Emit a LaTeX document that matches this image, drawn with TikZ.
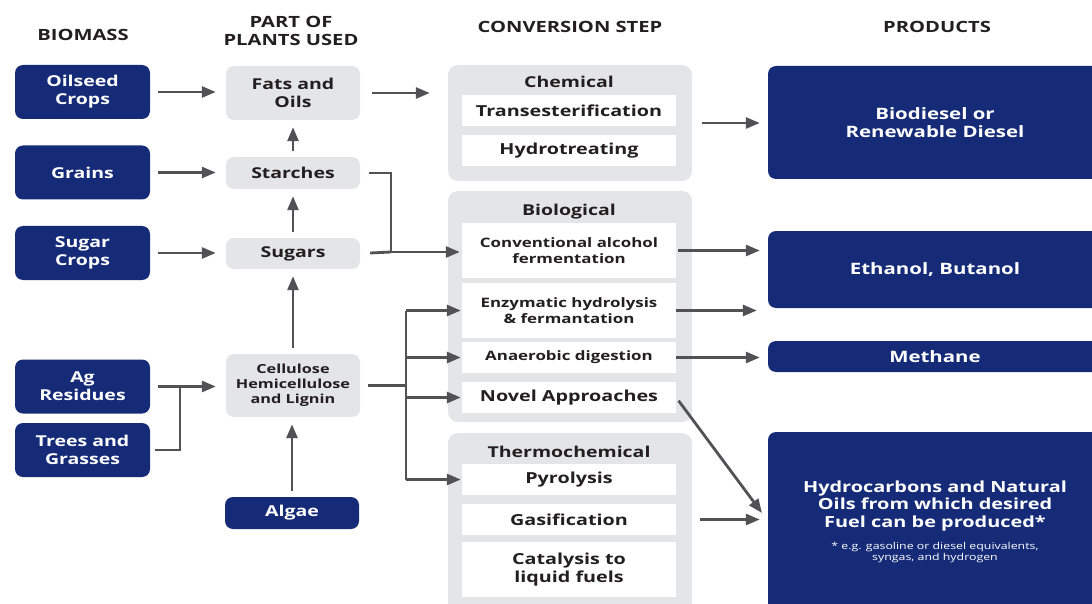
\documentclass[tikz,border=0pt]{standalone}
\usepackage{fontspec}
\setmainfont{Open Sans}[FakeStretch=1.3]
\usepackage{tikz}
\usetikzlibrary{calc,shapes,arrows.meta}

\definecolor{bmblue}{RGB}{22,43,120}
\definecolor{panelgray}{RGB}{228,229,230}
\definecolor{arrowgray}{RGB}{82,82,84}
\definecolor{textdark}{RGB}{35,31,32}
\newcommand{\bmfont}[2]{\fontsize{#1}{#2}\selectfont}

\begin{document}
\begin{tikzpicture}[x=1pt,y=-1pt,
    head/.style={text=textdark,align=center,font=\bfseries\bmfont{15.5}{18}},
    src/.style={fill=bmblue,rounded corners=8pt,text=white,align=center,inner sep=0pt,
        minimum width=135pt,minimum height=54pt,font=\bfseries\bmfont{15}{18}},
    part/.style={fill=panelgray,rounded corners=8pt,text=textdark,align=center,inner sep=0pt,
        minimum width=134pt,minimum height=32pt,font=\bfseries\bmfont{15}{18}},
    panel/.style={fill=panelgray,rounded corners=10pt,minimum width=244pt,inner sep=0pt},
    ptitle/.style={text=textdark,font=\bfseries\bmfont{15}{18}},
    stepbox/.style={fill=white,text=textdark,align=center,inner sep=0pt,
        minimum width=214pt,minimum height=31pt,font=\bfseries\bmfont{15.2}{18}},
    smallstep/.style={font=\bfseries\bmfont{13}{16}},
    prod/.style={fill=bmblue,rounded corners=8pt,text=white,align=center,inner sep=0pt,
        minimum width=334pt,font=\bfseries\bmfont{15.7}{18}},
    arr/.style={arrowgray,line width=2.8pt,-{Triangle[length=14pt,width=11pt]}},
    lnk/.style={arrowgray,line width=2.8pt}]
\useasboundingbox (0,0) rectangle (1092,604);
\clip (0,0) rectangle (1092,604);

% column heads
\node[head] (hbio) at (83,35) {BIOMASS};
\node[head] (hpart) at (291,31) {PART OF\\PLANTS USED};
\node[head] (hconv) at (570,27) {CONVERSION STEP};
\node[head] (hprod) at (937,27) {PRODUCTS};

% biomass
\node[src] (oil) at (82.5,92) {Oilseed\\Crops};
\node[src] (grains) at (82.5,172.5) {Grains};
\node[src] (sugarc) at (82.5,253) {Sugar\\Crops};
\node[src] (ag) at (82.5,386.5) {Ag\\Residues};
\node[src] (trees) at (82.5,450) {Trees and\\Grasses};

% part of plants used
\node[part,minimum height=54pt] (fats) at (293,93) {Fats and\\Oils};
\node[part] (starch) at (293,173) {Starches};
\node[part,minimum height=31pt] (sugars) at (293,253.5) {Sugars};
\node[part,minimum height=63pt,font=\bfseries\bmfont{12.5}{15}] (cell) at (293,385.5)
    {Cellulose\\Hemicellulose\\and Lignin};
\node[src,minimum width=134pt,minimum height=32pt] (algae) at (292,513) {Algae};

% conversion step panels
\node[panel,minimum height=116pt] (chem) at (570,123) {};
\node[panel,minimum height=231pt] (bio) at (570,306.5) {};
\node[panel,minimum height=182pt] (thermo) at (570,524) {};
\node[ptitle] (tchem) at (569,82) {Chemical};
\node[ptitle] (tbio) at (569,212) {Biological};
\node[ptitle] (tthermo) at (569,452) {Thermochemical};

\node[stepbox] (trans) at (569,110.5) {Transesterification};
\node[stepbox] (hydro) at (569,150.5) {Hydrotreating};
\node[stepbox,smallstep,minimum height=55pt] (conv) at (569,250.5)
    {Conventional alcohol\\fermentation};
\node[stepbox,smallstep,minimum height=55pt] (enz) at (569,310.5)
    {Enzymatic hydrolysis\\\& fermantation};
\node[stepbox,smallstep] (anaer) at (569,357.5) {Anaerobic digestion};
\node[stepbox] (novel) at (569,397.5) {Novel Approaches};
\node[stepbox] (pyro) at (569,479.5) {Pyrolysis};
\node[stepbox] (gasif) at (569,519.5) {Gasification};
\node[stepbox,minimum height=55pt] (cata) at (569,569.5) {Catalysis to\\liquid fuels};

% products
\node[prod,minimum height=113pt] (diesel) at (935,122.5) {Biodiesel or\\Renewable Diesel};
\node[prod,minimum height=77pt] (eth) at (935,269.5) {Ethanol, Butanol};
\node[prod,minimum height=31pt] (meth) at (935,356.5) {Methane};
\node[prod,minimum height=182pt] (hyc) at (935,523) {};
\node[text=white,align=center,font=\bfseries\bmfont{15.3}{17.5}] (hyctxt) at (935,506)
    {Hydrocarbons and Natural\\Oils from which desired\\Fuel can be produced*};
\node[text=white,align=center,font=\bmfont{9.5}{11}] (hycnote) at (935,553)
    {* e.g. gasoline or diesel equivalents,\\syngas, and hydrogen};

% biomass -> parts
\foreach \a/\b in {oil/fats,grains/starch,sugarc/sugars,ag/cell}
    \draw[arr,shorten <=8pt,shorten >=10pt] (\a.east) -- (\a.east -| \b.west);
\coordinate (agj) at (180,386.5);
\draw[lnk,shorten <=5pt] (trees.east) -| (agj);

% parts going up
\foreach \a/\b in {starch/fats,sugars/starch,cell/sugars,algae/cell}
    \draw[arr,shorten <=6pt,shorten >=7pt] (\a.north) -- (\a.north |- \b.south);

% parts -> conversion
\draw[arr,shorten <=12pt,shorten >=18pt] (fats.east) -- (fats.east -| chem.west);
\coordinate (sj) at (391,252);
\draw[lnk,shorten <=9pt] (starch.east) -| (sj);
\draw[lnk,shorten <=10pt] (sugars.east) -- (sj);
\draw[arr,shorten >=2pt] (sj) -- (sj -| conv.west);
\coordinate (cj) at (406,385.5);
\draw[lnk,shorten <=8pt] (cell.east) -- (cj);
\draw[lnk] (cj |- enz) -- (cj |- pyro);
\foreach \n in {enz,anaer,novel,pyro}
    \draw[arr,shorten >=1pt] (cj |- \n.west) -- (\n.west);

% conversion -> products
\draw[arr,shorten <=10pt,shorten >=8pt] (chem.east) -- (chem.east -| diesel.west);
\draw[arr,shorten <=2pt,shorten >=8pt] (conv.east) -- (conv.east -| eth.west);
\draw[arr,shorten >=11pt] (enz.east) -- (enz.east -| eth.west);
\draw[arr,shorten >=8pt] (anaer.east) -- (anaer.east -| meth.west);
\coordinate (hcin) at (762,513);
\draw[arr,shorten <=4pt] (novel.east) -- (hcin);
\draw[arr,shorten <=8pt,shorten >=8pt] (gasif.east -| thermo.east) -- (gasif.east -| hyc.west);
\end{tikzpicture}
\end{document}
